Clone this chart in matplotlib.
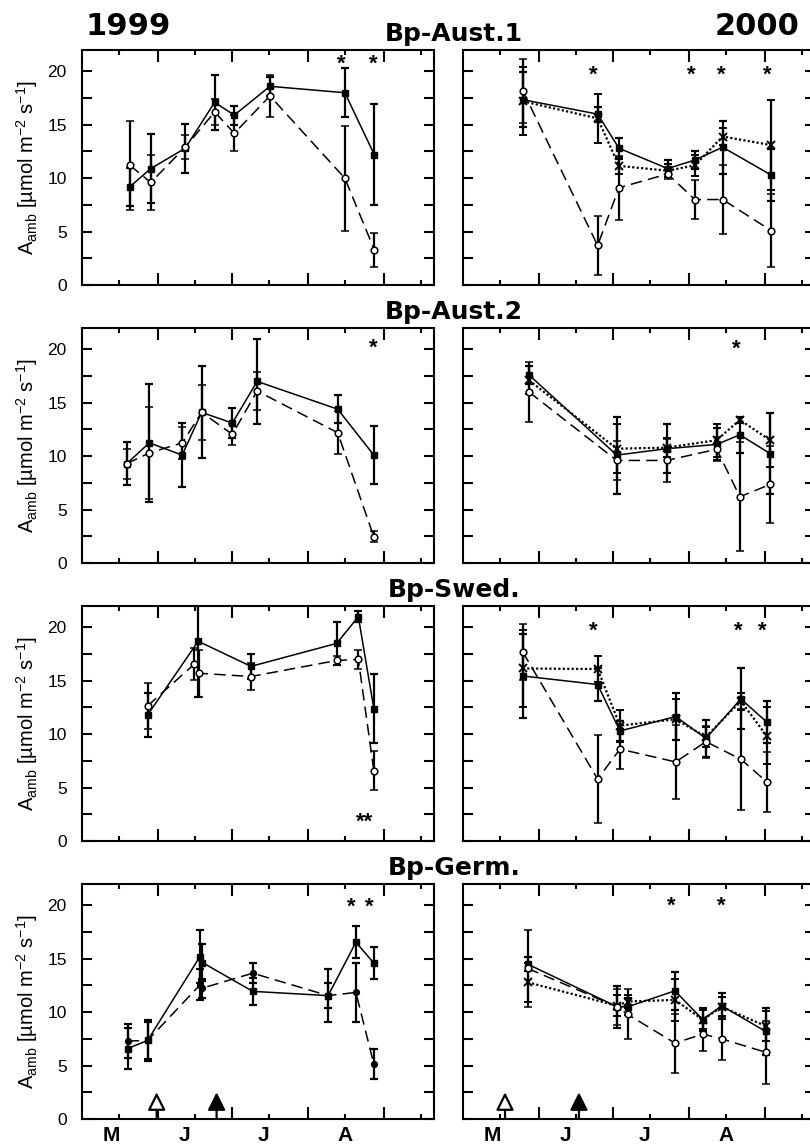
import matplotlib
matplotlib.use('Agg')
import matplotlib.pyplot as plt
from matplotlib.ticker import FixedLocator, MultipleLocator, NullFormatter
import matplotlib.transforms as mtransforms

plt.rcParams['font.family'] = ['Liberation Sans', 'DejaVu Sans']
plt.rcParams['mathtext.fontset'] = 'custom'
plt.rcParams['mathtext.rm'] = 'Liberation Sans'
plt.rcParams['mathtext.it'] = 'Liberation Sans:italic'
plt.rcParams['mathtext.bf'] = 'Liberation Sans:bold'

# x values are day of year, y values A_amb (umol m-2 s-1) with SD
# --- Bp-Aust.1 ---
A1_99_DAY = [140.5, 149, 163, 175, 183, 197.5, 228, 240]
A1_99_SQ = [9.2, 10.9, 12.8, 17.1, 15.9, 18.6, 18.0, 12.2]
A1_99_SQ_SD = [1.8, 3.2, 2.3, 2.6, 0.9, 0.9, 2.3, 4.7]
A1_99_CI = [11.2, 9.6, 12.9, 16.2, 14.2, 17.7, 10.0, 3.3]
A1_99_CI_SD = [4.2, 2.6, 1.1, 1.2, 1.7, 2.0, 4.9, 1.6]
A1_99_STAR = [226.6, 239.4]

A1_00_DAY = [145.3, 175.8, 184.5, 204.3, 215.4, 226.7, 246.4]
A1_00_SQ = [17.35, 16.0, 12.8, 10.9, 11.7, 12.9, 10.3]
A1_00_SQ_SD = [2.6, 0.7, 1.0, 0.8, 0.8, 2.5, 2.4]
A1_00_XX = [17.2, 15.6, 11.15, 10.7, 11.2, 13.9, 13.1]
A1_00_XX_SD = [3.2, 2.3, 0.8, 0.6, 1.0, 0.8, 4.2]
A1_00_CI = [18.2, 3.7, 9.1, 10.4, 8.0, 8.0, 5.1]
A1_00_CI_SD = [3.0, 2.8, 3.0, 0.5, 1.8, 3.2, 3.4]
A1_00_STAR = [174, 214, 226, 245]

# --- Bp-Aust.2 ---
A2_99_DAY = [139.2, 148.4, 161.8, 169.7, 182.2, 192.3, 225.1, 239.8]
A2_99_SQ = [9.3, 11.25, 10.1, 14.1, 13.1, 17.0, 14.4, 10.1]
A2_99_SQ_SD = [2.0, 5.5, 3.0, 4.3, 1.4, 4.0, 1.3, 2.7]
A2_99_CI = [9.3, 10.3, 11.25, 14.1, 12.05, 16.1, 12.2, 2.45]
A2_99_CI_SD = [1.4, 4.3, 1.5, 2.6, 1.0, 1.8, 2.0, 0.5]
A2_99_STAR = [239.5]

A2_00_DAY = [147.9, 183.6, 203.9, 224.3, 233.7, 246]
A2_00_SQ = [17.6, 10.1, 10.7, 11.1, 12.0, 10.25]
A2_00_SQ_SD = [0.8, 3.6, 2.3, 1.5, 1.7, 3.75]
A2_00_XX = [17.1, 10.7, 10.8, 11.5, 13.4, 11.5]
A2_00_XX_SD = [1.3, 2.3, 0.9, 1.55, 0.3, 2.5]
A2_00_CI = [16.0, 9.6, 9.6, 10.65, 6.2, 7.35]
A2_00_CI_SD = [2.8, 1.85, 2.0, 1.1, 5.1, 3.65]
A2_00_STAR = [232.4]

# --- Bp-Swed. ---
SW_99_SQ_DAY = [147.7, 168.3, 189.8, 224.7, 233.5, 239.8]
SW_99_SQ = [11.8, 18.7, 16.35, 18.5, 21.0, 12.4]
SW_99_SQ_SD = [2.05, 5.2, 1.15, 2.0, 0.5, 3.2]
SW_99_CI_DAY = [147.7, 166.7, 168.8, 189.8, 224.7, 233.5, 239.8]
SW_99_CI = [12.65, 16.55, 15.7, 15.4, 16.9, 17.0, 6.6]
SW_99_CI_SD = [2.15, 1.5, 2.2, 1.3, 0.4, 0.9, 1.8]
SW_99_STAR = [236.2]

SW_00_DAY = [145.3, 175.8, 184.9, 207.6, 219.9, 234.1, 244.6]
SW_00_SQ = [15.45, 14.65, 10.3, 11.65, 9.6, 13.3, 11.15]
SW_00_SQ_SD = [3.9, 1.55, 0.9, 2.2, 1.7, 2.85, 1.95]
SW_00_XX = [16.15, 16.1, 10.8, 11.4, 9.75, 13.1, 9.85]
SW_00_XX_SD = [3.6, 1.25, 1.5, 1.9, 0.95, 0.8, 2.65]
SW_00_CI = [17.7, 5.8, 8.6, 7.4, 9.3, 7.65, 5.55]
SW_00_CI_SD = [2.6, 4.1, 1.9, 3.5, 1.5, 4.75, 2.8]
SW_00_STAR = [174, 233, 243]

# --- Bp-Germ. ---
GE_99_DAY = [139.6, 147.7, 169, 170, 190.5, 221.2, 232.5, 239.8]
GE_99_SQ = [6.6, 7.35, 15.2, 14.65, 11.95, 11.55, 16.55, 14.6]
GE_99_SQ_SD = [1.9, 1.75, 2.5, 1.75, 1.25, 2.5, 1.5, 1.5]
GE_99_CI = [7.3, 7.35, 12.55, 12.25, 13.65, 11.55, 11.85, 5.15]
GE_99_CI_SD = [1.6, 1.95, 1.45, 0.9, 0.95, 1.15, 2.8, 1.4]
GE_99_STAR = [230.5, 238]
GE_99_ARROWS = [151.4, 175.8]

GE_00_DAY = [147.3, 183.8, 188, 207.3, 218.6, 226.3, 244.2]
GE_00_SQ = [14.5, 10.5, 10.5, 12.0, 9.3, 10.6, 8.2]
GE_00_SQ_SD = [0.65, 1.95, 0.8, 1.8, 1.05, 1.2, 2.2]
GE_00_XX = [12.8, 10.6, 11.0, 11.15, 9.3, 10.5, 8.7]
GE_00_XX_SD = [1.8, 1.0, 0.6, 2.0, 0.9, 0.9, 1.4]
GE_00_CI = [14.1, 10.5, 9.8, 7.1, 7.95, 7.5, 6.25]
GE_00_CI_SD = [3.6, 1.7, 2.35, 2.75, 1.55, 1.95, 2.95]
GE_00_STAR = [206, 226]
GE_00_ARROWS = [138.1, 168.2]

SITES = ['Bp-Aust.1', 'Bp-Aust.2', 'Bp-Swed.', 'Bp-Germ.']
STAR_Y = [[20.9, 19.9], [20.3, 20.25], [2.0, 19.9], [20.05, 20.2]]
MONTHS = ['M', 'J', 'J', 'A']
MONTH_POS = [133, 162.5, 195, 228]
MONTH_STARTS = [152, 182, 213, 244]
MID_MONTHS = [136, 167, 197, 228, 259]

SQ = dict(marker='s', ms=4.2, mfc='black', mec='black', ls='-', lw=1.1)
XX = dict(marker='x', ms=5.5, mec='black', mew=1.4, ls=(0, (1, 1.0)), lw=1.6)
CI = dict(marker='o', ms=4.8, mfc='white', mec='black', mew=1.1, ls=(0, (7.5, 4)), lw=1.1)
CI_FILL = dict(marker='o', ms=4.2, mfc='black', mec='black', ls=(0, (7.5, 4)), lw=1.1)

W, H = 810, 1148


def series(ax, x, y, sd, style):
    ax.errorbar(x, y, yerr=sd, color='black', ecolor='black', elinewidth=1.6,
                capsize=3, capthick=1.6, **style)


def setup(ax, left_col, bottom_row):
    ax.set_xlim(121, 264.3)
    ax.set_ylim(0, 22)
    ax.xaxis.set_major_locator(FixedLocator(MONTH_STARTS))
    ax.xaxis.set_minor_locator(FixedLocator(MID_MONTHS))
    ax.xaxis.set_major_formatter(NullFormatter())
    ax.yaxis.set_major_locator(MultipleLocator(5))
    ax.yaxis.set_minor_locator(MultipleLocator(2.5))
    ax.tick_params(which='both', direction='in', top=True, right=True, width=1.5)
    ax.tick_params(axis='x', which='major', length=8.5)
    ax.tick_params(axis='x', which='minor', length=3.5)
    ax.tick_params(axis='y', which='both', length=7)
    ax.tick_params(axis='y', labelsize=12.5, pad=11, labelleft=left_col)
    for s in ax.spines.values():
        s.set_linewidth(1.5)
    if left_col:
        ax.set_ylabel(r'A$_\mathrm{amb}$ [µmol m$^\mathrm{-2}$ s$^\mathrm{-1}$]', fontsize=14.5)
        ax.yaxis.set_label_coords(-0.12, 0.5)
    if bottom_row:
        trans = mtransforms.blended_transform_factory(ax.transData, ax.transAxes)
        for m, p in zip(MONTHS, MONTH_POS):
            ax.text(p, -0.07, m, transform=trans, ha='center', va='center',
                    fontsize=15, fontweight='bold')


def stars(ax, xs, y, text='*'):
    for x in xs:
        ax.text(x, y - 0.75, text, ha='center', va='baseline', fontsize=16,
                fontweight='bold')


def arrows(ax, xs):
    for i, x in enumerate(xs):
        fc = 'white' if i == 0 else 'black'
        ax.annotate('', xy=(x, 2.5), xytext=(x, 0),
                    arrowprops=dict(arrowstyle='-|>,head_length=0.6,head_width=0.3',
                                    fc=fc, ec='black', lw=1.6, mutation_scale=18,
                                    shrinkA=0, shrinkB=0))


fig = plt.figure(figsize=(W / 100, H / 100), dpi=100)
axes = []
for k in range(4):
    top = 50 + 278 * k
    b = 1 - (top + 235) / H
    axl = fig.add_axes([82 / W, b, 352 / W, 235 / H])
    axr = fig.add_axes([463 / W, b, 352 / W, 235 / H])
    axes.append((axl, axr))
    setup(axl, True, k == 3)
    setup(axr, False, k == 3)
    fig.text(454 / W, 1 - (top - 9.5) / H, SITES[k], ha='center', va='baseline',
             fontsize=18, fontweight='bold', family='DejaVu Sans')

fig.text(128 / W, 1 - 35 / H, '1999', ha='center', va='baseline', fontsize=22,
         fontweight='bold', family='DejaVu Sans')
fig.text(757 / W, 1 - 35 / H, '2000', ha='center', va='baseline', fontsize=22,
         fontweight='bold', family='DejaVu Sans')

# Bp-Aust.1
ax = axes[0][0]
series(ax, A1_99_DAY, A1_99_SQ, A1_99_SQ_SD, SQ)
series(ax, A1_99_DAY, A1_99_CI, A1_99_CI_SD, CI)
stars(ax, A1_99_STAR, STAR_Y[0][0])
ax = axes[0][1]
series(ax, A1_00_DAY, A1_00_SQ, A1_00_SQ_SD, SQ)
series(ax, A1_00_DAY, A1_00_XX, A1_00_XX_SD, XX)
series(ax, A1_00_DAY, A1_00_CI, A1_00_CI_SD, CI)
stars(ax, A1_00_STAR, STAR_Y[0][1])

# Bp-Aust.2
ax = axes[1][0]
series(ax, A2_99_DAY, A2_99_SQ, A2_99_SQ_SD, SQ)
series(ax, A2_99_DAY, A2_99_CI, A2_99_CI_SD, CI)
stars(ax, A2_99_STAR, STAR_Y[1][0])
ax = axes[1][1]
series(ax, A2_00_DAY, A2_00_SQ, A2_00_SQ_SD, SQ)
series(ax, A2_00_DAY, A2_00_XX, A2_00_XX_SD, XX)
series(ax, A2_00_DAY, A2_00_CI, A2_00_CI_SD, CI)
stars(ax, A2_00_STAR, STAR_Y[1][1])

# Bp-Swed.
ax = axes[2][0]
series(ax, SW_99_SQ_DAY, SW_99_SQ, SW_99_SQ_SD, SQ)
series(ax, SW_99_CI_DAY, SW_99_CI, SW_99_CI_SD, CI)
stars(ax, SW_99_STAR, STAR_Y[2][0], '**')
ax = axes[2][1]
series(ax, SW_00_DAY, SW_00_SQ, SW_00_SQ_SD, SQ)
series(ax, SW_00_DAY, SW_00_XX, SW_00_XX_SD, XX)
series(ax, SW_00_DAY, SW_00_CI, SW_00_CI_SD, CI)
stars(ax, SW_00_STAR, STAR_Y[2][1])

# Bp-Germ.
ax = axes[3][0]
series(ax, GE_99_DAY, GE_99_SQ, GE_99_SQ_SD, SQ)
series(ax, GE_99_DAY, GE_99_CI, GE_99_CI_SD, CI_FILL)
stars(ax, GE_99_STAR, STAR_Y[3][0])
arrows(ax, GE_99_ARROWS)
ax = axes[3][1]
series(ax, GE_00_DAY, GE_00_SQ, GE_00_SQ_SD, SQ)
series(ax, GE_00_DAY, GE_00_XX, GE_00_XX_SD, XX)
series(ax, GE_00_DAY, GE_00_CI, GE_00_CI_SD, CI)
stars(ax, GE_00_STAR, STAR_Y[3][1])
arrows(ax, GE_00_ARROWS)

fig.savefig('out.png', dpi=100)
